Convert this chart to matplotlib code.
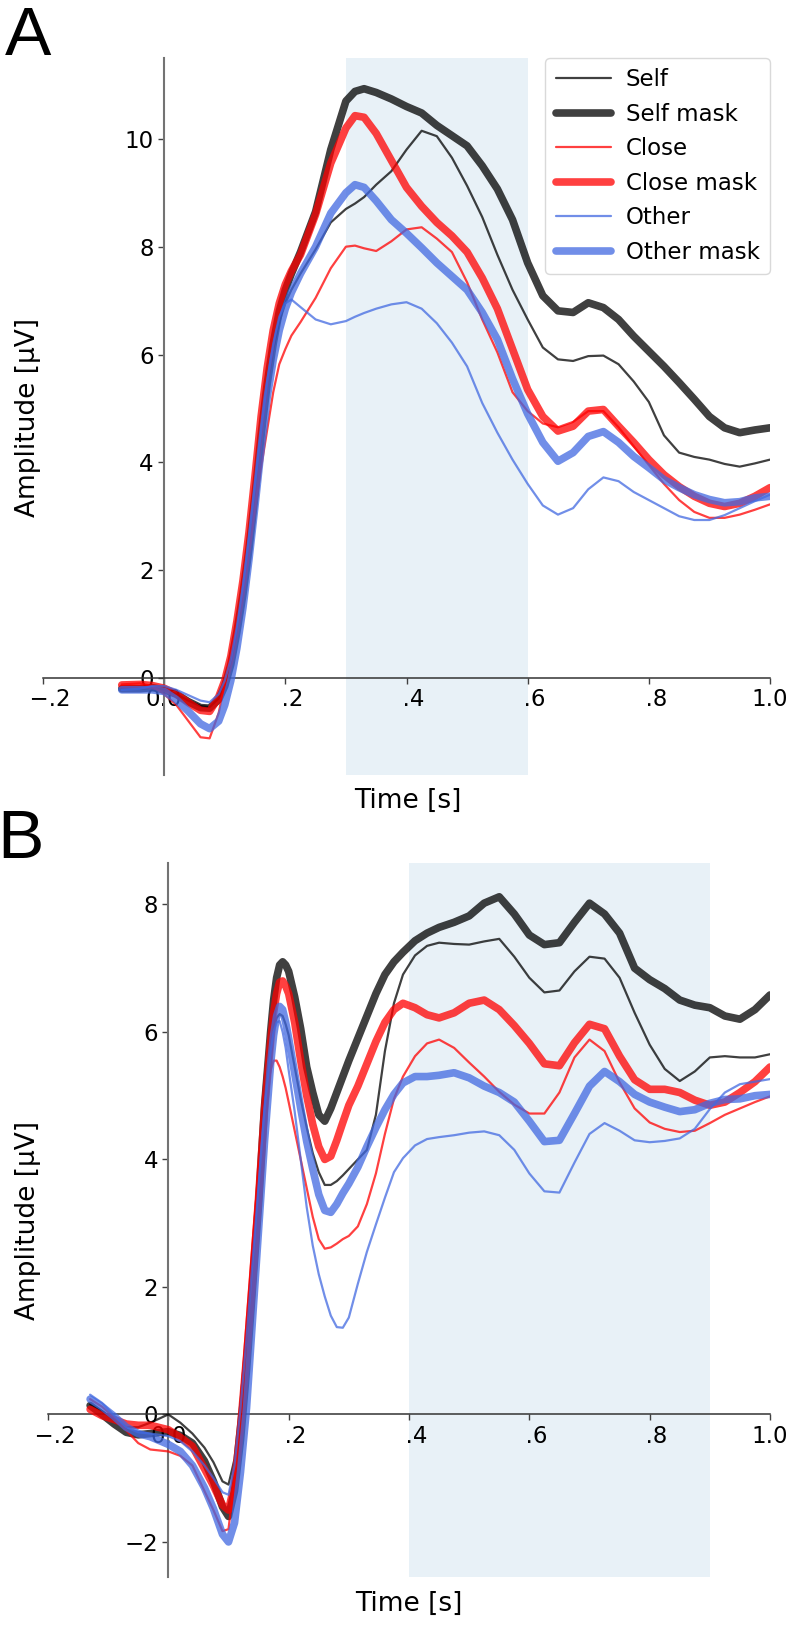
import matplotlib
matplotlib.use('Agg')
import matplotlib.pyplot as plt

# ---------------- data ----------------
series_labels = ['Self', 'Self mask', 'Close', 'Close mask', 'Other', 'Other mask']

time_a = [-0.07, -0.04, -0.02, 0.0, 0.02, 0.04, 0.06, 0.075, 0.09,
          0.1, 0.11, 0.12, 0.13, 0.14, 0.15, 0.16, 0.17, 0.18, 0.19, 0.2, 0.21,
          0.225, 0.25, 0.275, 0.3, 0.315, 0.33, 0.35, 0.375,
          0.4, 0.425, 0.45, 0.475, 0.5, 0.525, 0.55, 0.575, 0.6, 0.625, 0.65,
          0.675, 0.7, 0.725, 0.75, 0.775, 0.8, 0.825, 0.85, 0.875, 0.9, 0.925,
          0.95, 0.975, 1.0]

self_a = [-0.2, -0.2, -0.18, -0.22, -0.3, -0.42, -0.52, -0.54, -0.38,
          -0.12, 0.3, 0.9, 1.6, 2.45, 3.45, 4.5, 5.4, 6.1, 6.6, 6.95, 7.2,
          7.5, 7.95, 8.45, 8.7, 8.8, 8.92, 9.15, 9.4,
          9.8, 10.15, 10.05, 9.65, 9.13, 8.55, 7.85, 7.2, 6.65, 6.13, 5.91,
          5.88, 5.97, 5.98, 5.82, 5.5, 5.12, 4.5, 4.18, 4.1, 4.05, 3.97,
          3.92, 3.98, 4.05]

self_mask_a = [-0.2, -0.2, -0.18, -0.22, -0.3, -0.44, -0.55, -0.56, -0.4,
               -0.15, 0.25, 0.85, 1.55, 2.4, 3.4, 4.5, 5.45, 6.2, 6.8, 7.2, 7.5,
               7.9, 8.65, 9.8, 10.7, 10.88, 10.93, 10.86, 10.74,
               10.6, 10.48, 10.25, 10.06, 9.87, 9.5, 9.07, 8.5, 7.7, 7.09, 6.81,
               6.78, 6.96, 6.87, 6.65, 6.34, 6.06, 5.78, 5.48, 5.17, 4.85, 4.64,
               4.55, 4.6, 4.64]

close_a = [-0.12, -0.1, -0.15, -0.3, -0.5, -0.8, -1.1, -1.12, -0.65,
           -0.1, 0.45, 1.0, 1.6, 2.3, 3.1, 3.9, 4.6, 5.3, 5.82, 6.1, 6.35,
           6.6, 7.05, 7.6, 8.0, 8.02, 7.97, 7.92, 8.1,
           8.32, 8.36, 8.15, 7.9, 7.34, 6.65, 6.04, 5.3, 4.95, 4.72, 4.65,
           4.75, 4.95, 4.95, 4.65, 4.3, 3.95, 3.6, 3.3, 3.08, 2.97, 2.97,
           3.03, 3.12, 3.22]

close_mask_a = [-0.13, -0.12, -0.14, -0.19, -0.3, -0.46, -0.6, -0.62, -0.35,
                -0.05, 0.4, 1.05, 1.8, 2.7, 3.75, 4.85, 5.75, 6.45, 6.95, 7.3, 7.55,
                7.85, 8.6, 9.55, 10.2, 10.43, 10.4, 10.1, 9.6,
                9.1, 8.75, 8.45, 8.2, 7.9, 7.42, 6.85, 6.1, 5.35, 4.85, 4.58,
                4.67, 4.95, 4.98, 4.67, 4.37, 4.05, 3.77, 3.55, 3.37, 3.24, 3.18,
                3.24, 3.37, 3.53]

other_a = [-0.22, -0.2, -0.15, -0.15, -0.22, -0.32, -0.42, -0.45, -0.3,
           -0.05, 0.35, 0.95, 1.7, 2.6, 3.6, 4.6, 5.5, 6.2, 6.7, 6.95, 7.02,
           6.88, 6.65, 6.56, 6.62, 6.7, 6.77, 6.85, 6.93,
           6.97, 6.85, 6.58, 6.22, 5.78, 5.1, 4.55, 4.05, 3.6, 3.2, 3.03,
           3.15, 3.5, 3.72, 3.65, 3.45, 3.3, 3.15, 3.0, 2.93, 2.93, 3.02,
           3.15, 3.28, 3.4]

other_mask_a = [-0.22, -0.22, -0.22, -0.25, -0.4, -0.62, -0.85, -0.94, -0.8,
                -0.5, -0.05, 0.55, 1.3, 2.2, 3.2, 4.25, 5.2, 5.9, 6.45, 6.85, 7.15,
                7.5, 8.0, 8.62, 9.0, 9.15, 9.1, 8.85, 8.5,
                8.25, 7.98, 7.7, 7.45, 7.2, 6.78, 6.28, 5.55, 4.9, 4.37, 4.02,
                4.18, 4.48, 4.57, 4.37, 4.11, 3.9, 3.68, 3.53, 3.4, 3.31, 3.25,
                3.27, 3.34, 3.37]

time_b = [-0.13, -0.11, -0.09, -0.07, -0.05, -0.03, 0.0, 0.02, 0.04, 0.06,
          0.075, 0.09, 0.1, 0.11, 0.12, 0.13, 0.14, 0.15, 0.16, 0.17, 0.175,
          0.18, 0.185, 0.19, 0.195, 0.2, 0.21, 0.22, 0.23, 0.24, 0.25, 0.26,
          0.27, 0.28, 0.29, 0.3, 0.315, 0.33, 0.345, 0.36, 0.375, 0.39, 0.41,
          0.43, 0.45, 0.475, 0.5, 0.525, 0.55, 0.575, 0.6, 0.625, 0.65, 0.675,
          0.7, 0.725, 0.75, 0.775, 0.8, 0.825, 0.85, 0.875, 0.9, 0.925, 0.95,
          0.975, 1.0]

self_b = [0.16, 0.05, -0.08, -0.2, -0.2, -0.13, 0.0, -0.13, -0.3, -0.52,
          -0.75, -1.05, -1.1, -0.7, 0.2, 1.3, 2.5, 3.7, 4.9, 5.75, 6.05,
          6.22, 6.28, 6.25, 6.12, 5.95, 5.45, 4.95, 4.5, 4.1, 3.8, 3.6,
          3.6, 3.66, 3.75, 3.85, 4.0, 4.15, 4.7, 5.7, 6.45, 6.9, 7.2,
          7.35, 7.4, 7.38, 7.37, 7.42, 7.46, 7.18, 6.85, 6.62, 6.65, 6.95,
          7.18, 7.15, 6.85, 6.3, 5.8, 5.42, 5.23, 5.38, 5.6, 5.62, 5.6,
          5.6, 5.65]

self_mask_b = [0.14, 0.0, -0.15, -0.28, -0.32, -0.3, -0.27, -0.33, -0.45, -0.73,
               -1.05, -1.45, -1.6, -1.2, -0.4, 0.7, 2.0, 3.3, 4.85, 6.0, 6.5,
               6.85, 7.05, 7.1, 7.05, 6.95, 6.55, 6.05, 5.45, 5.05, 4.7, 4.6,
               4.8, 5.05, 5.3, 5.55, 5.9, 6.25, 6.6, 6.9, 7.1, 7.25, 7.43,
               7.55, 7.64, 7.72, 7.82, 8.02, 8.12, 7.85, 7.52, 7.37, 7.4, 7.72,
               8.02, 7.85, 7.55, 7.0, 6.82, 6.68, 6.5, 6.42, 6.38, 6.25, 6.2,
               6.35, 6.58]

close_b = [0.24, 0.12, -0.05, -0.25, -0.45, -0.55, -0.58, -0.65, -0.8, -1.2,
           -1.5, -1.83, -1.8, -1.0, 0.15, 1.45, 2.7, 3.85, 4.8, 5.4, 5.55,
           5.55, 5.45, 5.3, 5.12, 4.9, 4.45, 4.0, 3.55, 3.1, 2.75, 2.6,
           2.62, 2.68, 2.75, 2.8, 2.95, 3.3, 3.78, 4.4, 4.95, 5.3, 5.62,
           5.82, 5.88, 5.75, 5.52, 5.3, 5.06, 4.86, 4.72, 4.72, 5.05, 5.6,
           5.88, 5.7, 5.21, 4.8, 4.58, 4.48, 4.43, 4.45, 4.57, 4.7, 4.8,
           4.9, 4.99]

close_mask_b = [0.08, -0.02, -0.08, -0.15, -0.17, -0.17, -0.24, -0.36, -0.5, -0.85,
                -1.12, -1.42, -1.5, -1.1, -0.2, 0.9, 2.1, 3.4, 4.8, 5.85, 6.3,
                6.6, 6.78, 6.8, 6.72, 6.6, 6.15, 5.55, 5.0, 4.55, 4.2, 4.0,
                4.05, 4.3, 4.58, 4.85, 5.15, 5.5, 5.85, 6.15, 6.35, 6.45, 6.38,
                6.27, 6.22, 6.3, 6.45, 6.5, 6.35, 6.1, 5.82, 5.5, 5.47, 5.83,
                6.12, 6.05, 5.62, 5.25, 5.1, 5.1, 5.05, 4.93, 4.85, 4.9, 5.05,
                5.22, 5.45]

other_b = [0.31, 0.18, -0.02, -0.2, -0.28, -0.3, -0.34, -0.42, -0.58, -0.8,
           -1.0, -1.22, -1.26, -0.8, 0.1, 1.2, 2.4, 3.6, 4.8, 5.7, 6.0,
           6.15, 6.17, 6.0, 5.75, 5.4, 4.75, 4.0, 3.25, 2.65, 2.2, 1.85,
           1.55, 1.37, 1.36, 1.52, 2.05, 2.55, 2.98, 3.4, 3.8, 4.02, 4.22,
           4.32, 4.35, 4.38, 4.42, 4.44, 4.38, 4.15, 3.78, 3.5, 3.48, 3.95,
           4.4, 4.57, 4.45, 4.3, 4.27, 4.29, 4.33, 4.48, 4.79, 5.05, 5.18,
           5.22, 5.26]

other_mask_b = [0.24, 0.12, -0.03, -0.2, -0.3, -0.35, -0.47, -0.58, -0.8, -1.15,
                -1.48, -1.88, -2.0, -1.7, -0.9, 0.1, 1.5, 2.9, 4.3, 5.5, 5.95,
                6.25, 6.4, 6.35, 6.15, 5.9, 5.35, 4.8, 4.28, 3.85, 3.45, 3.2,
                3.17, 3.3, 3.47, 3.62, 3.88, 4.2, 4.5, 4.78, 5.02, 5.2, 5.3,
                5.3, 5.32, 5.36, 5.28, 5.15, 5.05, 4.9, 4.6, 4.28, 4.3, 4.72,
                5.15, 5.38, 5.22, 5.02, 4.9, 4.82, 4.75, 4.78, 4.88, 4.94, 4.95,
                5.0, 5.02]

xticks = [-0.2, 0.0, 0.2, 0.4, 0.6, 0.8, 1.0]
xticklabels = ['\u2007\u2212.2', '0.0', '\u2007.2', '\u2007.4', '\u2007.6', '\u2007.8', '1.0']
yticks_a = [0, 2, 4, 6, 8, 10]
yticklabels_a = ['0', '2', '4', '6', '8', '10']
yticks_b = [-2, 0, 2, 4, 6, 8]
yticklabels_b = ['\u22122', '0', '2', '4', '6', '8']
window_a = (0.3, 0.6)
window_b = (0.4, 0.9)

# ---------------- style ----------------
colors = ['black', 'black', 'red', 'red', 'royalblue', 'royalblue']
widths = [1.6, 5.5, 1.6, 5.5, 1.6, 5.5]
ALPHA = 0.75
TICK_FS = 16.5
LABEL_FS = 19

W, H = 792, 1625
fig = plt.figure(figsize=(W / 100, H / 100), dpi=100)


def fx(px):
    return px / W


def fy(py):
    return 1 - py / H


def make_axes(left, right, top, bottom):
    return fig.add_axes([fx(left), fy(bottom), fx(right) - fx(left), fy(top) - fy(bottom)])


def style_axes(ax, ylim, yticks, yticklabels, window):
    ax.axvspan(window[0], window[1], color='#1f77b4', alpha=0.1, lw=0, zorder=0)
    ax.set_xlim(-0.2, 1.0)
    ax.set_ylim(*ylim)
    ax.spines['left'].set_position(('data', 0))
    ax.spines['bottom'].set_position(('data', 0))
    ax.spines['top'].set_visible(False)
    ax.spines['right'].set_visible(False)
    ax.spines['left'].set_color('0.45')
    ax.spines['left'].set_linewidth(1.5)
    ax.spines['bottom'].set_color('0.2')
    ax.spines['bottom'].set_linewidth(1.1)
    ax.set_xticks(xticks)
    ax.set_xticklabels(xticklabels)
    ax.set_yticks(yticks)
    ax.set_yticklabels(yticklabels)
    ax.tick_params(direction='out', length=4, width=1, labelsize=TICK_FS, colors='0.25',
                   labelcolor='black')
    ax.set_facecolor('none')


# Panel A
axA = make_axes(43, 770, 58, 775)
style_axes(axA, (-1.8, 11.5), yticks_a, yticklabels_a, window_a)
series_a = [self_a, self_mask_a, close_a, close_mask_a, other_a, other_mask_a]
for lab, vals, c, lw in zip(series_labels, series_a, colors, widths):
    axA.plot(time_a, vals, color=c, lw=lw, alpha=ALPHA, label=lab, zorder=3,
             solid_capstyle='round', solid_joinstyle='round')
leg = axA.legend(loc='upper right', bbox_to_anchor=(1.0, 1.0), borderaxespad=0.0,
                 fontsize=TICK_FS, handlelength=2.4, handletextpad=0.65,
                 labelspacing=0.5, borderpad=0.45, framealpha=1.0, edgecolor='0.85')

# Panel B
axB = make_axes(48, 770, 863, 1577)
style_axes(axB, (-2.55, 8.65), yticks_b, yticklabels_b, window_b)
series_b = [self_b, self_mask_b, close_b, close_mask_b, other_b, other_mask_b]
for lab, vals, c, lw in zip(series_labels, series_b, colors, widths):
    axB.plot(time_b, vals, color=c, lw=lw, alpha=ALPHA, label=lab, zorder=3,
             solid_capstyle='round', solid_joinstyle='round')

# axis labels
fig.text(fx(28), fy(417), 'Amplitude [\u03bcV]', rotation=90, ha='center', va='center',
         fontsize=LABEL_FS)
fig.text(fx(408), fy(801), 'Time [s]', ha='center', va='center', fontsize=LABEL_FS)
fig.text(fx(28), fy(1220), 'Amplitude [\u03bcV]', rotation=90, ha='center', va='center',
         fontsize=LABEL_FS)
fig.text(fx(409), fy(1604), 'Time [s]', ha='center', va='center', fontsize=LABEL_FS)

# panel letters
fig.text(fx(5), fy(55), 'A', fontsize=50, family='Liberation Sans', va='baseline', ha='left')
fig.text(fx(-3), fy(858), 'B', fontsize=50, family='Liberation Sans', va='baseline', ha='left')

fig.savefig('out.png', dpi=100)
